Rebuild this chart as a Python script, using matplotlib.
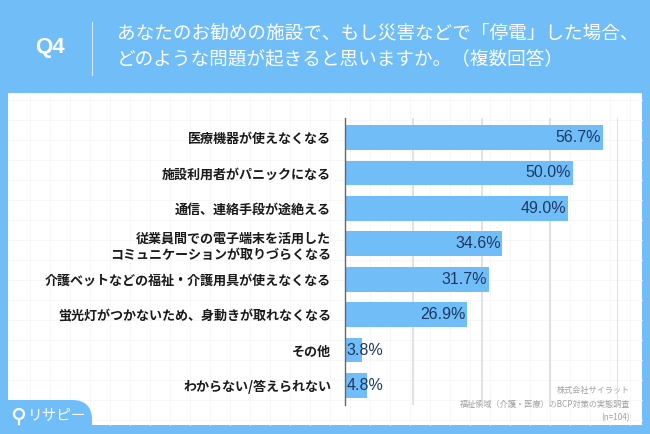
import matplotlib
matplotlib.use("Agg")
import matplotlib.pyplot as plt
from matplotlib.patches import FancyBboxPatch, Rectangle, Circle

plt.rcParams['font.family'] = ['Noto Sans CJK JP', 'DejaVu Sans']

# data
categories = [
    "医療機器が使えなくなる",
    "施設利用者がパニックになる",
    "通信、連絡手段が途絶える",
    "従業員間での電子端末を活用した\nコミュニケーションが取りづらくなる",
    "介護ベットなどの福祉・介護用具が使えなくなる",
    "蛍光灯がつかないため、身動きが取れなくなる",
    "その他",
    "わからない/答えられない",
]
values = [56.7, 50.0, 49.0, 34.6, 31.7, 26.9, 3.8, 4.8]
grid_ticks = [15, 30, 45, 60]

title_lines = "あなたのお勧めの施設で、もし災害などで「停電」した場合、\nどのような問題が起きると思いますか。（複数回答）"
source_lines = "株式会社サイラット\n福祉領域（介護・医療）のBCP対策の実態調査\n(n=104)"

BLUE = "#70bdf8"
NAVY = "#1d3a63"

W, H = 650, 434
fig = plt.figure(figsize=(6.5, 4.34), dpi=100)
fig.patch.set_facecolor(BLUE)

# background panel layer in pixel coords
bg = fig.add_axes([0, 0, 1, 1])
bg.set_xlim(0, W)
bg.set_ylim(H, 0)
bg.axis("off")
bg.add_patch(Rectangle((8, 93), 634, 332, facecolor="white", edgecolor="none"))
# faint graph-paper texture
for gx in range(30, 642, 20):
    bg.plot([gx, gx], [93, 425], color="#f6f6f6", lw=0.6, zorder=1)
for gy in range(100, 425, 20):
    bg.plot([8, 642], [gy, gy], color="#f6f6f6", lw=0.6, zorder=1)
# logo tab
bg.add_patch(FancyBboxPatch((-20, 400), 112, 60, boxstyle="round,pad=0,rounding_size=20",
                            facecolor=BLUE, edgecolor="none", zorder=2))

# header
bg.text(50, 48, "Q4", color="white", fontsize=16, ha="center", va="center",
        fontweight="bold", family=["Liberation Sans", "DejaVu Sans"])
bg.plot([92, 92], [22, 75], color="white", lw=0.8, alpha=0.7)
bg.text(117, 47, title_lines, color="white", fontsize=13.4, ha="left", va="center",
        linespacing=1.6)

# logo
bg.add_patch(Circle((19, 414), 5, facecolor="none", edgecolor="white", lw=1.6, zorder=3))
bg.plot([19, 19], [419, 424], color="white", lw=1.6, zorder=3)
bg.text(28, 415, "リサピー", color="white", fontsize=10.5, ha="left", va="center", zorder=3)

# source
bg.text(630, 404, source_lines, color="#a0a0a0", fontsize=5.9, ha="right", va="center",
        linespacing=1.6, multialignment="right", zorder=3)

# chart
ax = fig.add_axes([345 / W, 1 - 405 / H, 273 / W, 287 / H])
ax.set_facecolor("none")
y = list(range(len(categories)))
ax.barh(y, values, height=0.7, color=BLUE, zorder=2)
ax.set_xlim(0, 60)
ax.set_ylim(len(categories) - 0.45, -0.55)
ax.set_xticks(grid_ticks)
ax.set_xticklabels([])
ax.tick_params(axis="x", length=0)
ax.grid(axis="x", color="#dcdcdc", lw=1.2, zorder=0)
ax.set_yticks(y)
ax.set_yticklabels(categories, fontsize=9.4, fontweight="bold", color="#1a1a1a")
ax.tick_params(axis="y", length=0, pad=10)
for s in ["top", "right", "bottom"]:
    ax.spines[s].set_visible(False)
ax.spines["left"].set_color("#666666")
ax.spines["left"].set_linewidth(1.0)

for i, v in enumerate(values):
    label = f"{v:.1f}%"
    if v > 10:
        ax.text(v - 0.4, i, label, ha="right", va="center", fontsize=11.5, color=NAVY,
                family=["Liberation Sans", "DejaVu Sans"], zorder=3)
    else:
        ax.text(0.3, i, label, ha="left", va="center", fontsize=11.5, color=NAVY,
                family=["Liberation Sans", "DejaVu Sans"], zorder=3)

fig.savefig("out.png", dpi=100, facecolor=fig.get_facecolor())
